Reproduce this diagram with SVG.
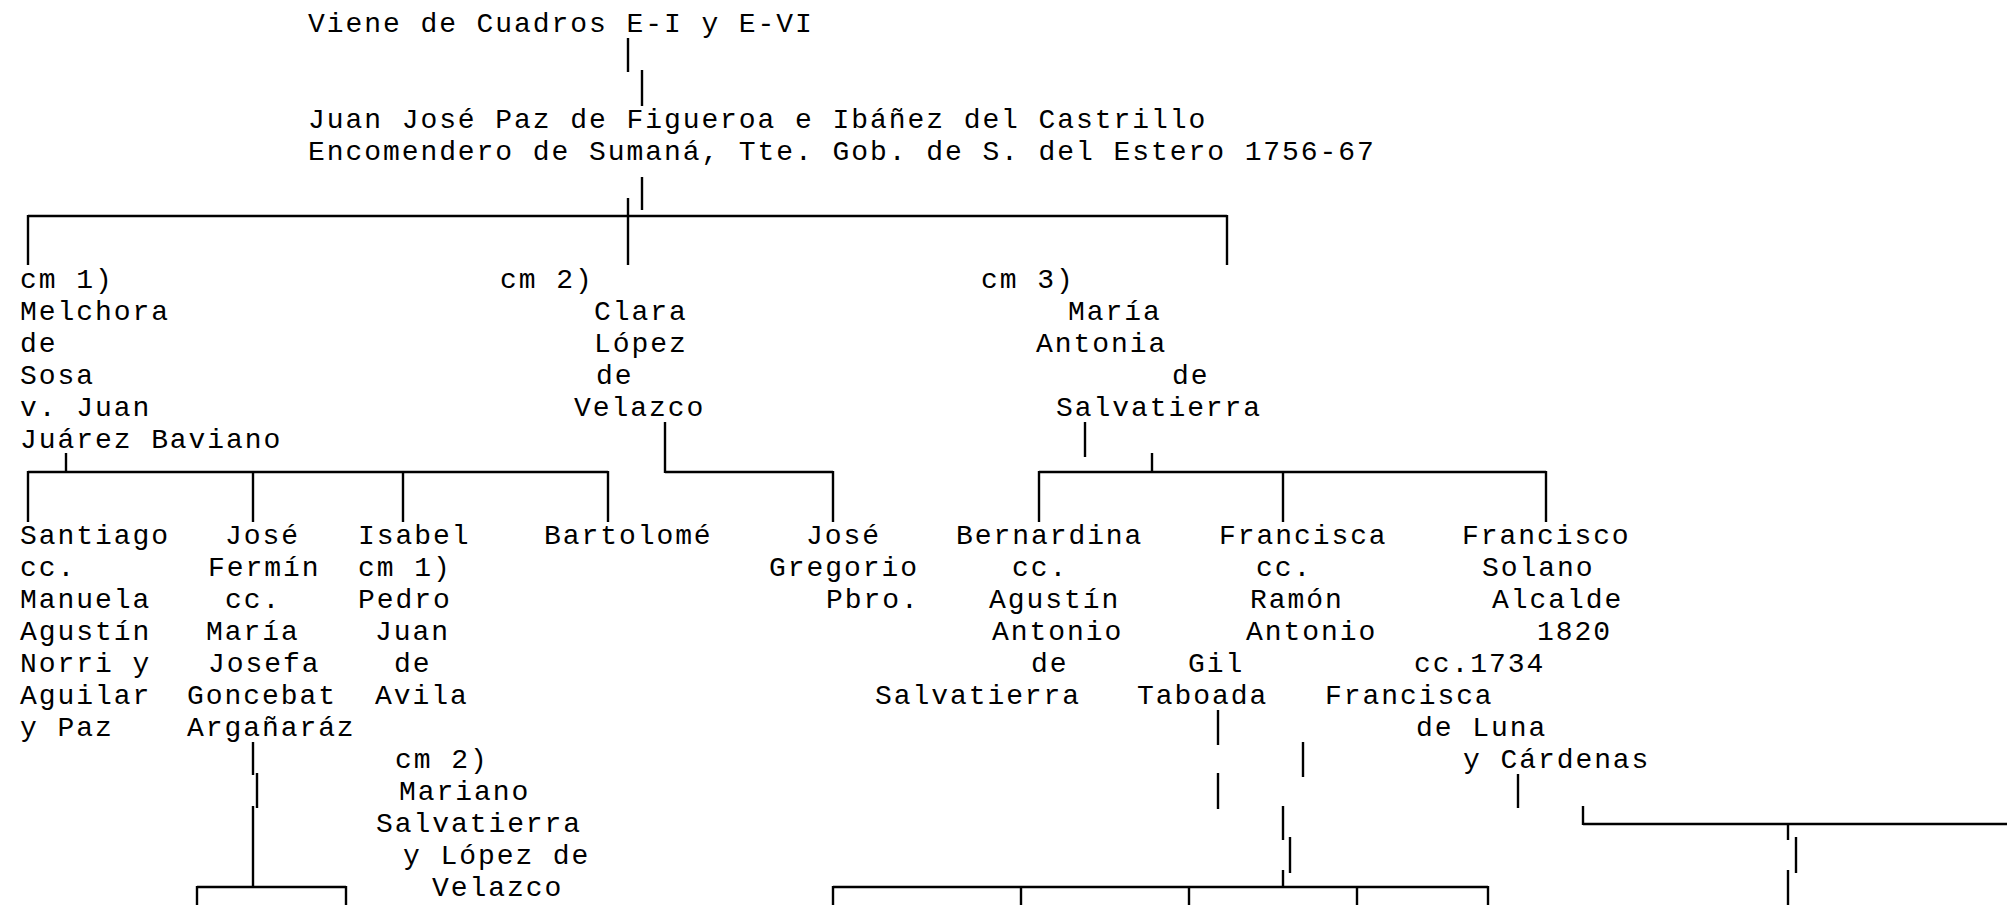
<svg xmlns="http://www.w3.org/2000/svg" width="2007" height="905" viewBox="0 0 2007 905">
<style>
text{font-family:"Liberation Mono","Courier New",monospace;font-size:28px;letter-spacing:1.93px;fill:#000;white-space:pre}
.c line{stroke:#000;stroke-width:2.4;fill:none}
</style>
<rect width="2007" height="905" fill="#fff"/>
<g class="c" id="connectors">
<line x1="628" y1="38" x2="628" y2="72"/>
<line x1="642" y1="70" x2="642" y2="106"/>
<line x1="642" y1="177" x2="642" y2="210"/>
<line x1="628" y1="198" x2="628" y2="265"/>
<line x1="28" y1="216" x2="1227" y2="216"/>
<line x1="28" y1="215" x2="28" y2="265"/>
<line x1="1227" y1="215" x2="1227" y2="265"/>
<line x1="66" y1="453" x2="66" y2="472"/>
<line x1="28" y1="472" x2="608" y2="472"/>
<line x1="28" y1="471" x2="28" y2="522"/>
<line x1="253" y1="471" x2="253" y2="522"/>
<line x1="403" y1="471" x2="403" y2="522"/>
<line x1="608" y1="471" x2="608" y2="522"/>
<line x1="665" y1="422" x2="665" y2="473"/>
<line x1="665" y1="472" x2="833" y2="472"/>
<line x1="833" y1="471" x2="833" y2="522"/>
<line x1="1085" y1="422" x2="1085" y2="457"/>
<line x1="1152" y1="453" x2="1152" y2="472"/>
<line x1="1039" y1="472" x2="1546" y2="472"/>
<line x1="1039" y1="471" x2="1039" y2="522"/>
<line x1="1283" y1="471" x2="1283" y2="522"/>
<line x1="1546" y1="471" x2="1546" y2="522"/>
<line x1="253" y1="742" x2="253" y2="775"/>
<line x1="257" y1="773" x2="257" y2="808"/>
<line x1="253" y1="806" x2="253" y2="887"/>
<line x1="197" y1="887" x2="346" y2="887"/>
<line x1="197" y1="886" x2="197" y2="905"/>
<line x1="346" y1="886" x2="346" y2="905"/>
<line x1="1218" y1="710" x2="1218" y2="745"/>
<line x1="1218" y1="773" x2="1218" y2="809"/>
<line x1="1303" y1="742" x2="1303" y2="777"/>
<line x1="1283" y1="806" x2="1283" y2="840"/>
<line x1="1290" y1="837" x2="1290" y2="873"/>
<line x1="1283" y1="870" x2="1283" y2="887"/>
<line x1="833" y1="887" x2="1488" y2="887"/>
<line x1="833" y1="886" x2="833" y2="905"/>
<line x1="1021" y1="886" x2="1021" y2="905"/>
<line x1="1189" y1="886" x2="1189" y2="905"/>
<line x1="1357" y1="886" x2="1357" y2="905"/>
<line x1="1488" y1="886" x2="1488" y2="905"/>
<line x1="1518" y1="774" x2="1518" y2="808"/>
<line x1="1583" y1="806" x2="1583" y2="825"/>
<line x1="1583" y1="824" x2="2007" y2="824"/>
<line x1="1788" y1="824" x2="1788" y2="840"/>
<line x1="1796" y1="837" x2="1796" y2="873"/>
<line x1="1788" y1="870" x2="1788" y2="905"/>
</g>
<g id="nodes" transform="translate(2,0)">
<g id="origin"><text x="306" y="32.3">Viene de Cuadros E-I y E-VI</text></g>
<g id="juan-jose">
<text x="306" y="128.3">Juan José Paz de Figueroa e Ibáñez del Castrillo</text>
<text x="306" y="160.3">Encomendero de Sumaná, Tte. Gob. de S. del Estero 1756-67</text>
</g>
<g id="melchora">
<text x="18" y="288.3">cm 1)</text>
<text x="18" y="320.3">Melchora</text>
<text x="18" y="352.3">de</text>
<text x="18" y="384.3">Sosa</text>
<text x="18" y="416.3">v. Juan</text>
<text x="18" y="448.3">Juárez Baviano</text>
</g>
<g id="clara">
<text x="498" y="288.3">cm 2)</text>
<text x="592" y="320.3">Clara</text>
<text x="592" y="352.3">López</text>
<text x="594" y="384.3">de</text>
<text x="572" y="416.3">Velazco</text>
</g>
<g id="maria-antonia">
<text x="979" y="288.3">cm 3)</text>
<text x="1066" y="320.3">María</text>
<text x="1034" y="352.3">Antonia</text>
<text x="1170" y="384.3">de</text>
<text x="1054" y="416.3">Salvatierra</text>
</g>
<g id="santiago">
<text x="18" y="544.3">Santiago</text>
<text x="18" y="576.3">cc.</text>
<text x="18" y="608.3">Manuela</text>
<text x="18" y="640.3">Agustín</text>
<text x="18" y="672.3">Norri y</text>
<text x="18" y="704.3">Aguilar</text>
<text x="18" y="736.3">y Paz</text>
</g>
<g id="jose-fermin">
<text x="223" y="544.3">José</text>
<text x="206" y="576.3">Fermín</text>
<text x="223" y="608.3">cc.</text>
<text x="204" y="640.3">María</text>
<text x="206" y="672.3">Josefa</text>
<text x="185" y="704.3">Goncebat</text>
<text x="185" y="736.3">Argañaráz</text>
</g>
<g id="isabel">
<text x="356" y="544.3">Isabel</text>
<text x="356" y="576.3">cm 1)</text>
<text x="356" y="608.3">Pedro</text>
<text x="373" y="640.3">Juan</text>
<text x="392" y="672.3">de</text>
<text x="373" y="704.3">Avila</text>
<text x="393" y="768.3">cm 2)</text>
<text x="397" y="800.3">Mariano</text>
<text x="374" y="832.3">Salvatierra</text>
<text x="401" y="864.3">y López de</text>
<text x="430" y="896.3">Velazco</text>
</g>
<g id="bartolome"><text x="542" y="544.3">Bartolomé</text></g>
<g id="jose-gregorio">
<text x="804" y="544.3">José</text>
<text x="767" y="576.3">Gregorio</text>
<text x="824" y="608.3">Pbro.</text>
</g>
<g id="bernardina">
<text x="954" y="544.3">Bernardina</text>
<text x="1010" y="576.3">cc.</text>
<text x="987" y="608.3">Agustín</text>
<text x="990" y="640.3">Antonio</text>
<text x="1029" y="672.3">de</text>
<text x="873" y="704.3">Salvatierra</text>
</g>
<g id="francisca">
<text x="1217" y="544.3">Francisca</text>
<text x="1254" y="576.3">cc.</text>
<text x="1248" y="608.3">Ramón</text>
<text x="1244" y="640.3">Antonio</text>
<text x="1186" y="672.3">Gil</text>
<text x="1135" y="704.3">Taboada</text>
</g>
<g id="francisco-solano">
<text x="1460" y="544.3">Francisco</text>
<text x="1480" y="576.3">Solano</text>
<text x="1490" y="608.3">Alcalde</text>
<text x="1535" y="640.3">1820</text>
<text x="1412" y="672.3">cc.1734</text>
<text x="1323" y="704.3">Francisca</text>
<text x="1414" y="736.3">de Luna</text>
<text x="1461" y="768.3">y Cárdenas</text>
</g>
</g>
</svg>
